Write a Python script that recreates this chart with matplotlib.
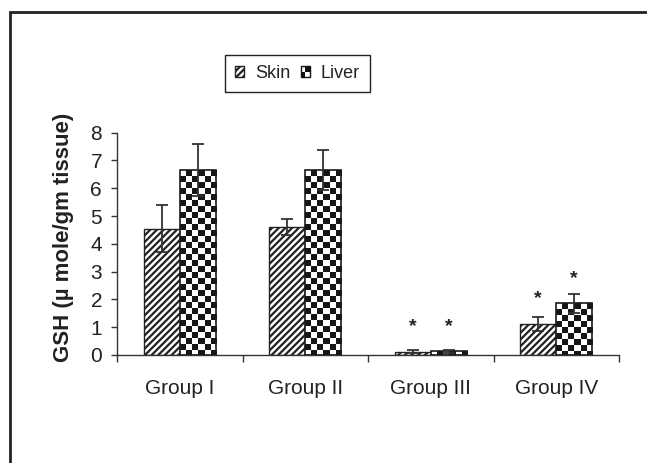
import matplotlib
matplotlib.use('Agg')
import matplotlib.pyplot as plt
import numpy as np
from matplotlib.patches import Rectangle, Patch
from matplotlib.legend_handler import HandlerBase

# ---- data ----
groups = ['Group I', 'Group II', 'Group III', 'Group IV']
skin = [4.55, 4.62, 0.12, 1.10]
skin_err = [0.85, 0.29, 0.06, 0.25]
liver = [6.65, 6.65, 0.13, 1.86]
liver_err = [0.93, 0.73, 0.06, 0.35]
skin_sig = [False, False, True, True]
liver_sig = [False, False, True, True]
series_names = ['Skin', 'Liver']
yticks = [0, 1, 2, 3, 4, 5, 6, 7, 8]
ylabel = 'GSH (\u00b5 mole/gm tissue)'

# styling: offset (points) of each significance star above its error bar
skin_star_off = [0, 0, 17, 13.5]
liver_star_off = [0, 0, 17, 10.5]

plt.rcParams['font.family'] = ['Liberation Sans', 'DejaVu Sans']
plt.rcParams['hatch.linewidth'] = 1.6
plt.rcParams['hatch.color'] = '#222222'

W, H = 647, 463
fig = plt.figure(figsize=(W / 100, H / 100), dpi=100)
ax = fig.add_axes([117 / W, 1 - 355 / H, (619 - 117) / W, (355 - 132.7) / H])

x = np.arange(len(groups))
w = 0.287
ax.set_xlim(-0.5, len(groups) - 0.5)
ax.set_ylim(0, 8)

b1 = ax.bar(x - w / 2, skin, w, facecolor='white', edgecolor='#222222',
            hatch='/////', linewidth=1.0, zorder=2)
b2 = ax.bar(x + w / 2, liver, w, facecolor='none', edgecolor='#1a1a1a',
            linewidth=1.2, zorder=3)

# checkerboard fill for liver bars
fig.canvas.draw()
ppu = ax.transData.transform((0, 1))[1] - ax.transData.transform((0, 0))[1]
cell_h = 6.0 / ppu
ncols = 6
for rect in b2:
    x0, h = rect.get_x(), rect.get_height()
    nrows = max(1, int(np.ceil(h / cell_h)))
    ii, jj = np.mgrid[0:nrows, 0:ncols]
    arr = ((ii + jj) % 2).astype(float)
    im = ax.imshow(arr, cmap=matplotlib.colors.ListedColormap(['white', '#161616']),
                   extent=[x0, x0 + w, h - nrows * cell_h, h], origin='upper',
                   interpolation='nearest', aspect='auto', zorder=2.5, vmin=0, vmax=1)
    im.set_clip_path(rect)
ax.set_xlim(-0.5, len(groups) - 0.5)
ax.set_ylim(0, 8)

ekw = dict(fmt='none', ecolor='#333333', elinewidth=1.3, capsize=4, capthick=1.3, zorder=4)
ax.errorbar(x - w / 2, skin, yerr=skin_err, **ekw)
ax.errorbar(x + w / 2, liver, yerr=liver_err, **ekw)

for xs, vals, errs, sigs, offs in [(x - w / 2, skin, skin_err, skin_sig, skin_star_off),
                                   (x + w / 2, liver, liver_err, liver_sig, liver_star_off)]:
    for xi, v, e, s, o in zip(xs, vals, errs, sigs, offs):
        if s:
            ax.annotate('*', (xi, v + e), xytext=(0, o), textcoords='offset points',
                        ha='center', va='center', fontsize=14, fontweight='bold',
                        color='#222222')

for s in ['top', 'right']:
    ax.spines[s].set_visible(False)
for s in ['left', 'bottom']:
    ax.spines[s].set_color('#333333')
    ax.spines[s].set_linewidth(1.0)

ax.set_xticks(np.arange(len(groups) + 1) - 0.5)
ax.set_xticklabels([''] * (len(groups) + 1))
ax.set_xticks(x, minor=True)
ax.set_xticklabels(groups, minor=True)
ax.tick_params(axis='x', which='major', length=5, width=1, color='#333333', direction='out')
ax.tick_params(axis='x', which='minor', length=0, pad=17, labelsize=15, labelcolor='#222222')
ax.set_yticks(yticks)
ax.tick_params(axis='y', length=4.3, width=1, color='#333333', pad=6.5, labelsize=15,
               labelcolor='#222222')

fig.text(63 / W, 1 - 237 / H, ylabel, rotation=90, ha='center', va='center',
         fontsize=16, fontweight='bold', color='#222222')

# outer frame
fig.patches.append(Rectangle((10 / W, -0.5), 2.0, 1 - 11.7 / H + 0.5,
                             transform=fig.transFigure, fill=False,
                             edgecolor='#222222', linewidth=2.0))


class CheckerHandler(HandlerBase):
    def create_artists(self, legend, orig_handle, xdescent, ydescent, width, height,
                       fontsize, trans):
        x0, y0 = -xdescent, -ydescent
        out = [Rectangle((x0, y0), width, height, facecolor='white', edgecolor='#111111',
                         lw=1.0, transform=trans)]
        out.append(Rectangle((x0 + width / 2, y0 + height / 2), width / 2, height / 2,
                             facecolor='#111111', edgecolor='none', transform=trans))
        out.append(Rectangle((x0, y0), width / 2, height / 2,
                             facecolor='#111111', edgecolor='none', transform=trans))
        return out


h_skin = Patch(facecolor='white', edgecolor='#222222', hatch='/////', lw=1.0)
h_liver = Patch(facecolor='white', edgecolor='#111111')
leg = fig.legend([h_skin, h_liver], series_names, loc='upper left',
                 bbox_to_anchor=(225 / W, 1 - 55 / H), ncol=2, fontsize=13,
                 handlelength=0.5, handleheight=0.5, handletextpad=0.6,
                 columnspacing=0.6, borderpad=0.55, borderaxespad=0,
                 frameon=True, fancybox=False, framealpha=1, edgecolor='#222222',
                 handler_map={h_liver: CheckerHandler()})
leg.get_frame().set_linewidth(1.0)
for t in leg.get_texts():
    t.set_color('#222222')

fig.savefig('out.png', dpi=100)
